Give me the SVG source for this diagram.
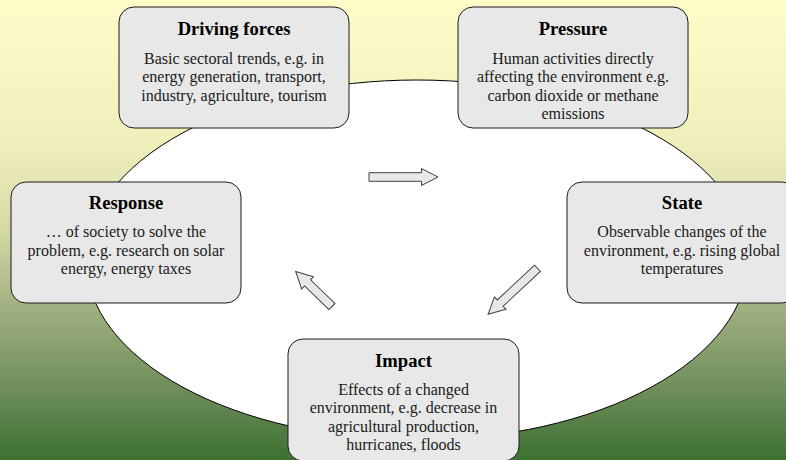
<svg xmlns="http://www.w3.org/2000/svg" width="786" height="460" viewBox="0 0 786 460">
<defs>
<linearGradient id="bg" x1="0" y1="0" x2="0" y2="1">
<stop offset="0" stop-color="#fffcc8"/>
<stop offset="0.3" stop-color="#f0f0bd"/>
<stop offset="0.5" stop-color="#d6d9a6"/>
<stop offset="0.65" stop-color="#a6b484"/>
<stop offset="0.85" stop-color="#6d8d5a"/>
<stop offset="1" stop-color="#3c7030"/>
</linearGradient>
<style>
.box{fill:#e8e8e8;stroke:#1a1a1a;stroke-width:1}
.arrow{fill:#e8e8e8;stroke:#404040;stroke-width:1}
.t{font-family:"Liberation Serif","Times New Roman",serif;font-weight:bold;font-size:18.6px;fill:#000;text-anchor:middle}
.b{font-family:"Liberation Serif","Times New Roman",serif;font-size:16px;fill:#1a1a1a;text-anchor:middle}
</style>
</defs>
<rect x="0" y="0" width="786" height="460" fill="url(#bg)"/>
<ellipse cx="417" cy="260" rx="331" ry="180" fill="#ffffff" stroke="#000" stroke-width="1"/>

<g id="connectors">
<path class="arrow" d="M0,-4.3 L52.5,-4.3 L52.5,-8.5 L69,0 L52.5,8.5 L52.5,4.3 L0,4.3 Z" transform="translate(369,177)"/>
<path class="arrow" d="M0,-4.3 L51,-4.3 L51,-8.5 L67.5,0 L51,8.5 L51,4.3 L0,4.3 Z" transform="translate(537.5,268.3) rotate(137)"/>
<path class="arrow" d="M0,-4.3 L34,-4.3 L34,-8.5 L50.5,0 L34,8.5 L34,4.3 L0,4.3 Z" transform="translate(332,306.5) rotate(-136)"/>
</g>

<g id="driving-forces">
<rect class="box" x="119" y="7" width="230" height="121" rx="15"/>
<text class="t" x="234" y="35">Driving forces</text>
<text class="b" x="234" y="63.5">Basic sectoral trends, e.g. in</text>
<text class="b" x="234" y="82">energy generation, transport,</text>
<text class="b" x="234" y="100.5">industry, agriculture, tourism</text>
</g>

<g id="pressure">
<rect class="box" x="458" y="7" width="230" height="121" rx="15"/>
<text class="t" x="573" y="35">Pressure</text>
<text class="b" x="573" y="63.5">Human activities directly</text>
<text class="b" x="573" y="82">affecting the environment e.g.</text>
<text class="b" x="573" y="100.5">carbon dioxide or methane</text>
<text class="b" x="573" y="119">emissions</text>
</g>

<g id="response">
<rect class="box" x="11" y="182" width="230" height="121" rx="15"/>
<text class="t" x="126" y="209">Response</text>
<text class="b" x="126" y="237">… of society to solve the</text>
<text class="b" x="126" y="255.5">problem, e.g. research on solar</text>
<text class="b" x="126" y="274">energy, energy taxes</text>
</g>

<g id="state">
<rect class="box" x="567" y="182" width="230" height="121" rx="15"/>
<text class="t" x="682" y="209">State</text>
<text class="b" x="682" y="237">Observable changes of the</text>
<text class="b" x="682" y="255.5">environment, e.g. rising global</text>
<text class="b" x="682" y="274">temperatures</text>
</g>

<g id="impact">
<rect class="box" x="288" y="339" width="231" height="122" rx="15"/>
<text class="t" x="403.5" y="366.7">Impact</text>
<text class="b" x="403.5" y="395">Effects of a changed</text>
<text class="b" x="403.5" y="413.3">environment, e.g. decrease in</text>
<text class="b" x="403.5" y="431.7">agricultural production,</text>
<text class="b" x="403.5" y="450">hurricanes, floods</text>
</g>
</svg>
